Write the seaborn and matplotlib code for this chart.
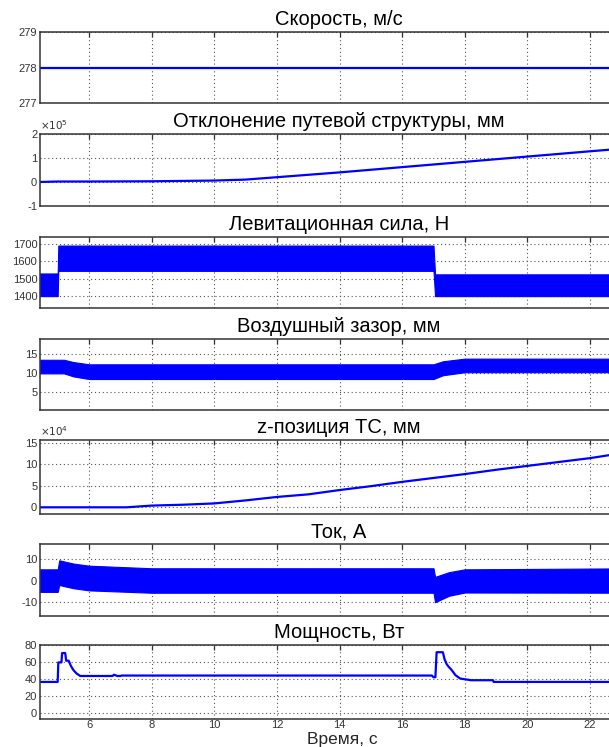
import numpy as np
import pandas as pd
import matplotlib
matplotlib.use('Agg')
import matplotlib.pyplot as plt
import seaborn as sns

# === DATA ===
speed_t = [4.43, 23.6]
speed_v = [278, 278]

# deviation of guideway, x1e5 mm
dev_t = [4.43, 5.0, 6.0, 8.0, 10.0, 11.0, 12.0, 13.0, 14.0, 16.0, 18.0, 20.0, 22.0, 23.6]
dev_v = [0.0, 0.02, 0.02, 0.03, 0.06, 0.1, 0.2, 0.3, 0.4, 0.62, 0.84, 1.06, 1.28, 1.45]

# levitation force band (envelope), N
lev_t = [4.43, 5.0, 5.02, 17.0, 17.05, 23.6]
lev_hi = [1530, 1530, 1690, 1690, 1525, 1525]
lev_lo = [1400, 1400, 1545, 1545, 1400, 1400]

# air gap band, mm
gap_t = [4.43, 5.2, 5.5, 6.0, 17.0, 17.3, 18.0, 23.6]
gap_hi = [13.6, 13.6, 13.0, 12.4, 12.4, 13.2, 13.9, 13.9]
gap_lo = [10.0, 10.0, 9.2, 8.5, 8.5, 9.5, 10.3, 10.3]

# z-position of vehicle, x1e4 mm
z_t = [4.43, 7.2, 8.0, 9.0, 10.0, 11.0, 12.0, 13.0, 14.0, 15.0, 16.0, 17.0,
       18.0, 19.0, 20.0, 21.0, 22.0, 23.6]
z_v = [0.0, 0.0, 0.4, 0.6, 0.9, 1.6, 2.4, 3.0, 4.0, 4.9, 5.9, 6.8,
       7.7, 8.7, 9.6, 10.5, 11.4, 13.2]

# current band, A
cur_t = [4.43, 5.0, 5.05, 5.5, 6.0, 8.0, 17.0, 17.05, 17.5, 18.0, 23.6]
cur_hi = [5.3, 5.3, 9.5, 8.0, 7.0, 5.8, 5.8, 1.8, 4.0, 5.3, 5.8]
cur_lo = [-5.2, -5.2, -2.0, -3.5, -4.5, -5.6, -5.6, -10.0, -7.0, -5.5, -5.6]

# power, W
pw_t = [4.43, 5.0, 5.02, 5.12, 5.14, 5.24, 5.27, 5.35, 5.42, 5.5, 5.6, 5.72,
        6.75, 6.8, 6.9, 7.0, 7.05, 16.95, 17.0, 17.06, 17.1, 17.3, 17.35,
        17.42, 17.48, 17.58, 17.7, 17.85, 18.2, 18.9, 18.92, 23.6]
pw_v = [37, 37, 60, 60, 71, 71, 62, 62, 56, 51, 47, 44,
        44, 45.5, 44, 44, 44.5, 44.5, 42.5, 42.5, 72, 72, 64,
        58, 55, 51, 45, 41, 39, 39, 37, 37]

titles = ['Скорость, м/с', 'Отклонение путевой структуры, мм', 'Левитационная сила, Н',
          'Воздушный зазор, мм', 'z-позиция ТС, мм', 'Ток, А', 'Мощность, Вт']
ylims = [(277, 279), (-1, 2), (1332, 1742), (0.3, 19.1), (-1.55, 15.6), (-16.2, 17.1), (-6.7, 80.5)]
yticks = [[277, 278, 279], [-1, 0, 1, 2], [1400, 1500, 1600, 1700], [5, 10, 15],
          [0, 5, 10, 15], [-10, 0, 10], [0, 20, 40, 60, 80]]
xticks = [6, 8, 10, 12, 14, 16, 18, 20, 22]
# axes top / bottom in pixels
px_top = [32, 134, 236.5, 339, 440, 544, 645]
px_bot = [103, 206, 308, 410, 514, 615.5, 719]

# === PLOT ===
sns.set_style('white')
plt.rcParams['font.family'] = ['Liberation Sans', 'DejaVu Sans']
plt.rcParams['axes.unicode_minus'] = False
W, H = 609, 747
fig = plt.figure(figsize=(W / 100, H / 100), dpi=100)

BLUE = '#0000ff'
x0, x1 = 40, 638   # right side of the axes lies outside the picture (cropped)
axes = []
for i in range(7):
    ax = fig.add_axes([x0 / W, 1 - px_bot[i] / H, (x1 - x0) / W, (px_bot[i] - px_top[i]) / H])
    axes.append(ax)

def line(ax, t, v):
    df = pd.DataFrame({'t': t, 'v': v})
    sns.lineplot(data=df, x='t', y='v', ax=ax, color=BLUE, lw=1.6, estimator=None, sort=False)

def band(ax, t, lo, hi):
    ax.fill_between(t, lo, hi, color=BLUE, lw=0.8, edgecolor=BLUE)

line(axes[0], speed_t, speed_v)
line(axes[1], dev_t, dev_v)
band(axes[2], lev_t, lev_lo, lev_hi)
band(axes[3], gap_t, gap_lo, gap_hi)
line(axes[4], z_t, z_v)
band(axes[5], cur_t, cur_lo, cur_hi)
line(axes[6], pw_t, pw_v)

for i, ax in enumerate(axes):
    ax.set_xlim(4.435, 23.53)
    ax.set_ylim(*ylims[i])
    ax.set_xticks(xticks)
    ax.set_yticks(yticks[i])
    ax.set_xlabel('')
    ax.set_ylabel('')
    ax.grid(True, linestyle=(0, (1, 2.5)), color='#555555', lw=0.8)
    ax.set_axisbelow(True)
    ax.tick_params(direction='in', top=True, right=True, length=3.5, width=0.9,
                   color='#333333', labelsize=8, labelcolor='#333333', pad=2)
    ax.tick_params(axis='x', pad=1)
    for s in ax.spines.values():
        s.set_color('#333333')
        s.set_linewidth(1.1)
    if i < 6:
        ax.set_xticklabels([])
    ax.set_title(titles[i], fontsize=14.5, pad=5, color='black')

axes[1].text(0.0, 1.03, r'$\times10^{5}$', transform=axes[1].transAxes, fontsize=7.5,
             color='#333333', ha='left', va='bottom')
axes[4].text(0.0, 1.03, r'$\times10^{4}$', transform=axes[4].transAxes, fontsize=7.5,
             color='#333333', ha='left', va='bottom')

fig.text(342 / W, 1 - 747 / H, 'Время, с', fontsize=12.5, ha='center', va='bottom')

fig.savefig('out.png', dpi=100)
